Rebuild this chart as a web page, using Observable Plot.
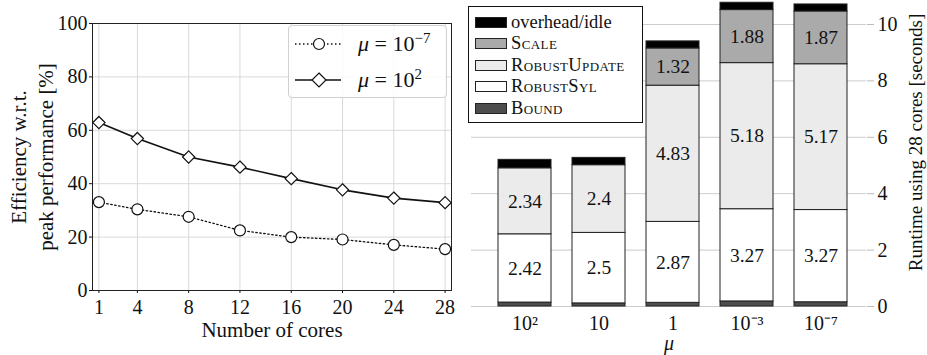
<!DOCTYPE html>
<html><head><meta charset="utf-8">
<script src="https://cdn.jsdelivr.net/npm/d3@7"></script>
<script src="https://cdn.jsdelivr.net/npm/@observablehq/plot@0.6"></script>
<style>
body{margin:0;background:#fff;font-family:"Liberation Serif",serif;color:#111;}
svg, svg text{font-family:"Liberation Serif",serif !important;}
#wrap{position:relative;width:927px;height:355px;overflow:hidden;}
#left{position:absolute;left:0;top:0;}
#right{position:absolute;left:460px;top:0;}
#legL{position:absolute;left:288px;top:25px;width:157px;height:71px;border:1px solid #d0d0d0;border-radius:4px;background:rgba(255,255,255,0.85);font-family:"Liberation Serif",serif;}
#legL .row{position:absolute;left:0;height:24px;display:flex;align-items:center;font-size:22px;}
#legL svg{margin-left:6px;}
#legL span{margin-left:15px;white-space:nowrap;}
#legL sup{font-size:0.68em;vertical-align:0.55em;line-height:0;}
#legR{position:absolute;left:468px;top:6px;width:173px;height:115px;border:1px solid #111;background:#fff;font-family:"Liberation Serif",serif;}
#legR .row{position:absolute;left:6px;height:20px;display:flex;align-items:center;font-size:18.5px;}
#legR .sw{width:30px;height:9px;border:1px solid #222;}
#legR .lab{margin-left:4px;white-space:nowrap;}
</style></head><body>
<div id="wrap"><div id="left"></div><div id="right"></div><div id="legL"></div><div id="legR"></div></div>
<script>
// ---- data: left panel (efficiency) ----
const cores = [1, 4, 8, 12, 16, 20, 24, 28];
const effMuSmall = [33.1, 30.4, 27.6, 22.5, 20.0, 19.1, 17.1, 15.5];   // mu = 10^-7
const effMuLarge = [62.9, 56.9, 50.0, 46.2, 41.9, 37.7, 34.6, 32.9];   // mu = 10^2
const effTicks = [0, 20, 40, 60, 80, 100];
const seriesExponents = ["−7", "2"];   // legend: mu = 10^e

// ---- data: right panel (runtime breakdown) ----
const muLabels = ["10²", "10", "1", "10⁻³", "10⁻⁷"];
const parts = ["Bound", "RobustSyl", "RobustUpdate", "Scale", "overhead/idle"];
const bound = [0.14, 0.11, 0.13, 0.18, 0.15];
const robustSyl = [2.42, 2.5, 2.87, 3.27, 3.27];
const robustUpdate = [2.34, 2.4, 4.83, 5.18, 5.17];
const scale = [0, 0, 1.32, 1.88, 1.87];
const overhead = [0.30, 0.26, 0.25, 0.26, 0.25];
const labeledParts = ["RobustSyl", "RobustUpdate", "Scale"];
const runtimeTicks = [0, 2, 4, 6, 8, 10];

const partColors = ["#4d4d4d", "#ffffff", "#ebebeb", "#aaaaaa", "#000000"];
const font = "Liberation Serif";

// ---- left chart ----
const lineSmall = cores.map((c, i) => ({cores: c, eff: effMuSmall[i]}));
const lineLarge = cores.map((c, i) => ({cores: c, eff: effMuLarge[i]}));

const left = Plot.plot({
  width: 460, height: 355,
  marginLeft: 92, marginRight: 9, marginTop: 23, marginBottom: 65,
  style: {fontFamily: font, fontSize: "20px", color: "#111", background: "transparent", overflow: "visible"},
  x: {domain: [0.5, 28.5]},
  y: {domain: [0, 100]},
  marks: [
    Plot.gridX(cores, {stroke: "#d9d9d9", strokeOpacity: 1}),
    Plot.gridY(effTicks, {stroke: "#d9d9d9", strokeOpacity: 1}),
    Plot.axisX({ticks: cores, tickSize: 3, tickPadding: 6, label: null, fontSize: 20, fontFamily: font}),
    Plot.axisY({ticks: effTicks, tickSize: 3, tickPadding: 2, label: null, fontSize: 20, fontFamily: font}),
    Plot.text(["Number of cores"], {text: d => d, frameAnchor: "bottom", textAnchor: "middle", lineAnchor: "middle", dy: 40, fontSize: 21, fontFamily: font}),
    Plot.text(["Efficiency w.r.t.\npeak performance [%]"], {text: d => d, frameAnchor: "left", textAnchor: "middle", lineAnchor: "middle", rotate: -90, dx: -62, lineHeight: 1.3, fontSize: 21, fontFamily: font}),
    Plot.line(lineSmall, {x: "cores", y: "eff", stroke: "#111", strokeWidth: 1.3, strokeDasharray: "1.5 2.5"}),
    Plot.line(lineLarge, {x: "cores", y: "eff", stroke: "#111", strokeWidth: 1.6}),
    Plot.frame({stroke: "#222"}),
    Plot.dot(lineSmall, {x: "cores", y: "eff", r: 5.5, symbol: "circle", fill: "white", stroke: "#111", strokeWidth: 1.2}),
    Plot.dot(lineLarge, {x: "cores", y: "eff", r: 5.5, symbol: "diamond2", fill: "white", stroke: "#111", strokeWidth: 1.2})
  ]
});
document.getElementById("left").append(left);

// ---- right chart ----
const partValues = [bound, robustSyl, robustUpdate, scale, overhead];
const barData = muLabels.flatMap((m, i) => parts.map((p, j) => ({mu: m, part: p, value: partValues[j][i]})))
  .filter(d => d.value > 0);

const right = Plot.plot({
  width: 467, height: 355,
  marginLeft: 11, marginRight: 61, marginTop: 0, marginBottom: 49,
  style: {fontFamily: font, fontSize: "19px", color: "#111", background: "transparent", overflow: "visible"},
  x: {domain: muLabels, range: [11, 413], paddingInner: 0.284, paddingOuter: 0.35},
  y: {domain: [0, 10.85]},
  color: {domain: parts, range: partColors},
  marks: [
    Plot.gridY(runtimeTicks, {stroke: "#cccccc", strokeOpacity: 1}),
    Plot.axisY({anchor: "right", ticks: runtimeTicks, tickSize: 7, tickPadding: 4, stroke: "#bbb", label: null, fontSize: 20, fontFamily: font}),
    Plot.axisX({tickSize: 0, tickPadding: 9, label: null, fontSize: 20, fontFamily: font}),
    Plot.text(["μ"], {text: d => d, frameAnchor: "bottom", textAnchor: "middle", lineAnchor: "middle", dy: 37, fontSize: 20, fontStyle: "italic", fontFamily: font}),
    Plot.text(["Runtime using 28 cores [seconds]"], {text: d => d, frameAnchor: "right", textAnchor: "middle", lineAnchor: "middle", rotate: -90, dx: 49, dy: -11, fontSize: 19, fontFamily: font}),
    Plot.barY(barData, {x: "mu", y: "value", fill: "part", stroke: "#222", strokeWidth: 1, order: parts}),
    Plot.text(barData, Plot.stackY({x: "mu", y: "value", z: "part", order: parts,
      text: d => labeledParts.includes(d.part) ? String(d.value) : null, fontSize: 19.5, fill: "#111", fontFamily: font}))
  ]
});
document.getElementById("right").append(right);

// ---- left legend ----
const legL = document.getElementById("legL");
seriesExponents.forEach((e, i) => {
  const row = document.createElement("div");
  row.className = "row";
  row.style.top = (6 + i * 36) + "px";
  const marker = i === 0
    ? `<circle cx="24" cy="12" r="5.5" fill="white" stroke="#111" stroke-width="1.2"/>`
    : `<path d="M24,5 L31,12 L24,19 L17,12 Z" fill="white" stroke="#111" stroke-width="1.2"/>`;
  const dash = i === 0 ? `stroke-dasharray="1.5 2.5" stroke-width="1.3"` : `stroke-width="1.6"`;
  row.innerHTML = `<svg width="48" height="24"><line x1="0" y1="12" x2="46" y2="12" stroke="#111" ${dash}/>${marker}</svg>` +
    `<span><i>μ</i> = 10<sup>${e}</sup></span>`;
  legL.append(row);
});

// ---- right legend ----
const legR = document.getElementById("legR");
parts.slice().reverse().forEach((p, i) => {
  const j = parts.indexOf(p);
  const row = document.createElement("div");
  row.className = "row";
  row.style.top = (5 + i * 21.5) + "px";
  const sc = p === "overhead/idle" ? "" : "font-variant:small-caps;letter-spacing:0.4px;";
  row.innerHTML = `<div class="sw" style="background:${partColors[j]}"></div><span class="lab" style="${sc}">${p}</span>`;
  legR.append(row);
});
</script>
</body></html>
